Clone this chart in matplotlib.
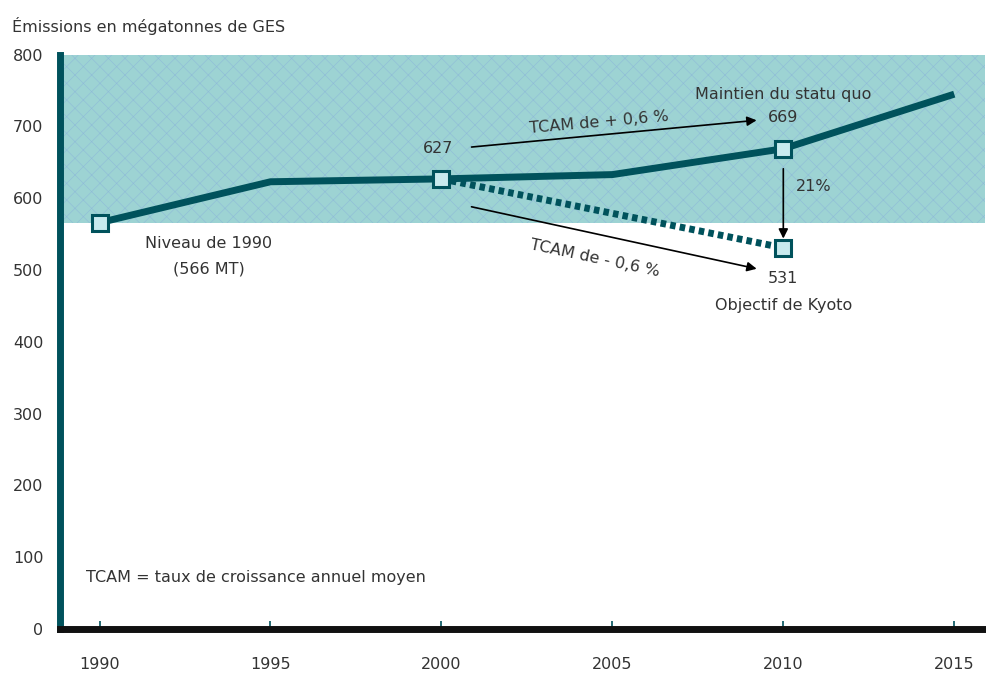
import matplotlib.pyplot as plt
import numpy as np

# data
years = [1990, 1995, 2000, 2005, 2010, 2015]
emissions = [566, 623, 627, 633, 669, 745]
kyoto_years = [2000, 2010]
kyoto_vals = [627, 531]
marker_years = [1990, 2000, 2010, 2010]
marker_vals = [566, 627, 669, 531]
level_1990 = 566
yticks = [0, 100, 200, 300, 400, 500, 600, 700, 800]
xticks = [1990, 1995, 2000, 2005, 2010, 2015]

teal = '#00525c'
plt.rcParams['font.family'] = ['DejaVu Sans']
plt.rcParams['hatch.linewidth'] = 0.4

fig = plt.figure(figsize=(9.87, 6.75), dpi=100)
ax = fig.add_axes([0.061, 0.068, 0.937, 0.851])

ax.set_xlim(1988.85, 2015.9)
ax.set_ylim(0, 800)

# shaded band above the 1990 level
ax.axhspan(level_1990, 800, facecolor='#9dd3d3', edgecolor='#8fbbd8', hatch='xx', lw=0, zorder=0)

ax.plot(years, emissions, color=teal, lw=5, zorder=3, solid_capstyle='butt')
ax.plot(kyoto_years, kyoto_vals, color=teal, lw=5, ls=(0, (0.8, 0.6)), zorder=3)
ax.plot(marker_years, marker_vals, 's', ms=11, mfc='#c8eaee', mec=teal, mew=2.2, zorder=4)

# arrows
arr = dict(arrowstyle='-|>', color='black', lw=1.2, mutation_scale=14)
ax.annotate('', xy=(2009.3, 709), xytext=(2000.8, 671), arrowprops=arr)
ax.annotate('', xy=(2009.3, 501), xytext=(2000.8, 589), arrowprops=arr)
ax.annotate('', xy=(2010, 540), xytext=(2010, 645), arrowprops=arr)

tc = '#333333'
fs = 11.5
ax.text(2004.6, 705, 'TCAM de + 0,6 %', fontsize=fs, color=tc, rotation=5, ha='center', va='center')
ax.text(2004.5, 517, 'TCAM de - 0,6 %', fontsize=fs, color=tc, rotation=-12, ha='center', va='center')
ax.text(1999.9, 670, '627', fontsize=fs, color=tc, ha='center', va='center')
ax.text(2010, 712, '669', fontsize=fs, color=tc, ha='center', va='center')
ax.text(2010, 745, 'Maintien du statu quo', fontsize=fs, color=tc, ha='center', va='center')
ax.text(2010.9, 617, '21%', fontsize=fs, color=tc, ha='center', va='center')
ax.text(2010, 488, '531', fontsize=fs, color=tc, ha='center', va='center')
ax.text(2010, 450, 'Objectif de Kyoto', fontsize=fs, color=tc, ha='center', va='center')
ax.text(1993.2, 537, 'Niveau de 1990', fontsize=fs, color=tc, ha='center', va='center')
ax.text(1993.2, 502, '(566 MT)', fontsize=fs, color=tc, ha='center', va='center')
ax.text(1989.6, 72, 'TCAM = taux de croissance annuel moyen', fontsize=fs, color=tc, ha='left', va='center')
fig.text(0.012, 0.962, 'Émissions en mégatonnes de GES', fontsize=fs, color=tc, ha='left', va='center')

ax.set_yticks(yticks)
ax.set_xticks(xticks)
ax.tick_params(axis='y', length=0, labelsize=fs, labelcolor=tc, pad=12)
ax.tick_params(axis='x', direction='in', length=6, width=1.2, color=teal, labelsize=fs, labelcolor=tc, pad=20)

for s in ['top', 'right']:
    ax.spines[s].set_visible(False)
ax.spines['left'].set_color(teal)
ax.spines['left'].set_linewidth(5)
ax.spines['bottom'].set_color('#111111')
ax.spines['bottom'].set_linewidth(5)

fig.savefig('out.png', dpi=100)
